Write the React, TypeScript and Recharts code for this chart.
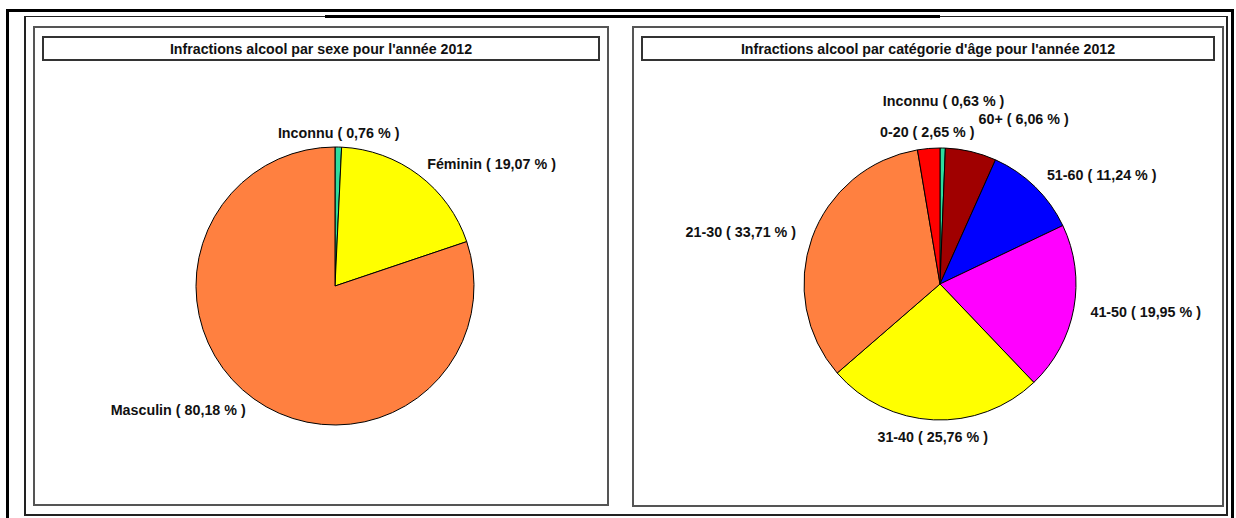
import React from "react";
import { PieChart, Pie, Cell } from "recharts";

// Sexe
const sexeLabels = ["Inconnu", "Féminin", "Masculin"];
const sexeValues = [0.76, 19.07, 80.18];
const sexeColors = ["#2EDC9E", "#FFFF00", "#FF8040"];

// Catégorie d'âge (ordre horaire depuis midi)
const ageLabels = ["Inconnu", "60+", "51-60", "41-50", "31-40", "21-30", "0-20"];
const ageValues = [0.63, 6.06, 11.24, 19.95, 25.76, 33.71, 2.65];
const ageColors = ["#2EDC9E", "#A00000", "#0000FF", "#FF00FF", "#FFFF00", "#FF8040", "#FF0000"];

const sexeData = sexeLabels.map((name, i) => ({ name, value: sexeValues[i] }));
const ageData = ageLabels.map((name, i) => ({ name, value: ageValues[i] }));

const RADIAN = Math.PI / 180;
const FONT = "'Liberation Sans', Arial, sans-serif";
const NO_MARGIN = { top: 0, right: 0, bottom: 0, left: 0 };

const fmt = (v: number) => v.toFixed(2).replace(".", ",");

// gap = distance label/pie, extra = radial push for labels that would collide near the top
function makeLabel(gap: number, extra: Record<string, number>) {
  return (props: any) => {
    const { cx, cy, midAngle, outerRadius, name, value } = props;
    const r = outerRadius + gap + (extra[name] || 0);
    const cos = Math.cos(-midAngle * RADIAN);
    const sin = Math.sin(-midAngle * RADIAN);
    const x = cx + r * cos;
    const y = cy + r * sin;
    const anchor = Math.abs(cos) < 0.15 ? "middle" : cos > 0 ? "start" : "end";
    return (
      <text
        x={x}
        y={y}
        textAnchor={anchor}
        dominantBaseline="central"
        fill="#111"
        fontSize={14.3}
        fontWeight="bold"
        fontFamily={FONT}
      >
        {`${name} ( ${fmt(value)} % )`}
      </text>
    );
  };
}

const abs = (l: number, t: number, w: number, h: number): React.CSSProperties => ({
  position: "absolute", left: l, top: t, width: w, height: h, boxSizing: "border-box",
});

function Panel({ left, right, bottom, title }: { left: number; right: number; bottom: number; title: string }) {
  return (
    <>
      <div style={{ ...abs(left, 26, right - left, bottom - 26), border: "2px solid #555", background: "#fff" }} />
      <div
        style={{
          ...abs(left + 9, 36, right - left - 18, 25),
          border: "2px solid #333",
          display: "flex", alignItems: "center", justifyContent: "center",
          fontFamily: FONT, fontWeight: "bold", fontSize: 14.2, color: "#111",
        }}
      >
        {title}
      </div>
    </>
  );
}

export default function App() {
  return (
    <div style={{ position: "fixed", left: 0, top: 0, width: 1236, height: 518, background: "#fff", overflow: "hidden" }}>
      <div style={{ ...abs(6, 9, 1228, 530), border: "3px solid #000" }} />
      <div style={{ ...abs(24, 16, 1204, 500), border: "2px solid #222", borderTopWidth: 1 }} />
      <div style={{ ...abs(325, 15, 615, 3), background: "#000" }} />

      <Panel left={33} right={609} bottom={506} title="Infractions alcool par sexe pour l'année 2012" />
      <Panel left={632} right={1224} bottom={507} title="Infractions alcool par catégorie d'âge pour l'année 2012" />

      <div style={{ position: "absolute", left: 0, top: 0 }}>
        <PieChart width={620} height={518} margin={NO_MARGIN}>
          <Pie
            data={sexeData}
            dataKey="value"
            nameKey="name"
            cx={335}
            cy={286}
            outerRadius={139}
            startAngle={90}
            endAngle={-270}
            stroke="#000"
            strokeWidth={1}
            labelLine={false}
            label={makeLabel(14, {})}
            isAnimationActive={false}
          >
            {sexeData.map((d, i) => (
              <Cell key={d.name} fill={sexeColors[i]} />
            ))}
          </Pie>
        </PieChart>
      </div>

      <div style={{ position: "absolute", left: 620, top: 0 }}>
        <PieChart width={616} height={518} margin={NO_MARGIN}>
          <Pie
            data={ageData}
            dataKey="value"
            nameKey="name"
            cx={320}
            cy={284}
            outerRadius={136}
            startAngle={90}
            endAngle={-270}
            stroke="#000"
            strokeWidth={1}
            labelLine={false}
            label={makeLabel(17, { Inconnu: 30, "60+": 16 })}
            isAnimationActive={false}
          >
            {ageData.map((d, i) => (
              <Cell key={d.name} fill={ageColors[i]} />
            ))}
          </Pie>
        </PieChart>
      </div>
    </div>
  );
}
